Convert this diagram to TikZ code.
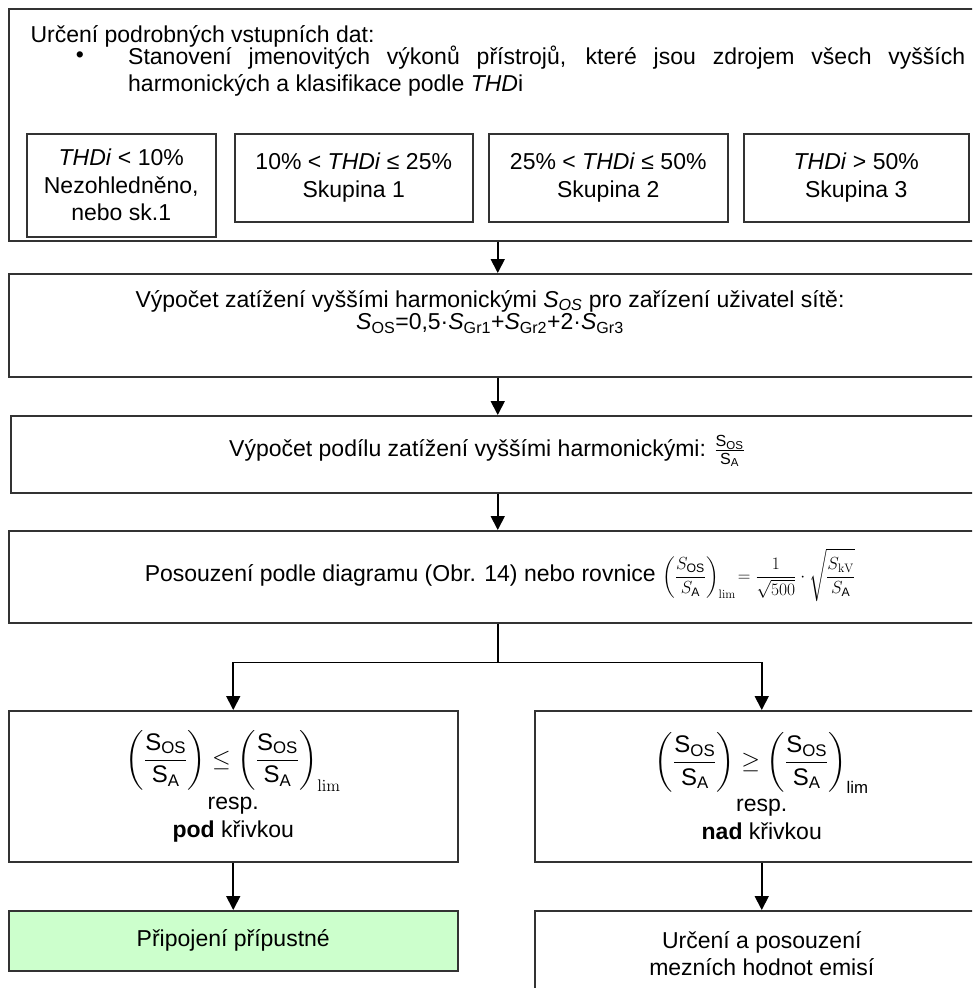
\RequirePackage{fix-cm}
\documentclass[tikz,border=0pt]{standalone}
\usepackage{amsmath}
\usepackage[no-math]{fontspec}
\setmainfont{Liberation Sans}
\usetikzlibrary{arrows.meta}
\definecolor{okgreen}{RGB}{204,255,204}
\newcommand{\Sos}{\text{S}_{\text{OS}}}
\newcommand{\Sa}{\text{S}_{\text{A}}}

\begin{document}
\begin{tikzpicture}[x=1pt,y=-1pt,
  every node/.style={font=\fontsize{23}{27.5}\selectfont},
  box/.style={draw=black!80,line width=1.5pt,inner sep=0pt,anchor=north west,align=center},
  arr/.style={-{Triangle[width=14pt,length=14pt]},line width=1.8pt}]
\useasboundingbox (0,0) rectangle (972,988);
\clip (0,0) rectangle (972,988);

% input data
\node[box,minimum width=978pt,minimum height=232pt] (input) at (8,8) {};
\node[anchor=base west] (inputtitle) at (27,42) {Určení podrobných vstupních dat:};
\node[anchor=base] (bullet) at (80,62) {•};
\node[anchor=north west,text width=837pt,align=justify,inner sep=0pt,font=\fontsize{23}{26.5}\selectfont] (inputtext) at (128,46)
  {Stanovení jmenovitých výkonů přístrojů, které jsou zdrojem všech vyšších\linebreak harmonických a klasifikace podle \textit{THD}i};
\node[box,minimum width=189pt,minimum height=103pt] (grp0) at (26,133) {\textit{THDi} < 10\%\\Nezohledněno,\\nebo sk.1};
\node[box,minimum width=238pt,minimum height=88pt] (grp1) at (234,133) {10\% < \textit{THDi} ≤ 25\%\\Skupina 1};
\node[box,minimum width=239pt,minimum height=88pt] (grp2) at (488,133) {25\% < \textit{THDi} ≤ 50\%\\Skupina 2};
\node[box,minimum width=225pt,minimum height=88pt] (grp3) at (743,133) {\textit{THDi} > 50\%\\Skupina 3};

% harmonic load
\node[box,minimum width=978pt,minimum height=103pt] (sos) at (8,273) {};
\node[align=center] (sostext) at (490,312) {Výpočet zatížení vyššími harmonickými \textit{S\textsubscript{OS}} pro zařízení uživatel sítě:\\[-5pt]
  \textit{S}\textsubscript{OS}=0,5·\textit{S}\textsubscript{Gr1}+\textit{S}\textsubscript{Gr2}+2·\textit{S}\textsubscript{Gr3}};

% ratio
\node[box,minimum width=976pt,minimum height=77pt] (ratio) at (10,415) {};
\node (ratiotext) at (487,451) {Výpočet podílu zatížení vyššími harmonickými: $\frac{\Sos}{\Sa}$};

% assessment
\node[box,minimum width=978pt,minimum height=92pt] (assess) at (8,530) {};
\node (assesstext) at (500,575) {Posouzení podle diagramu (Obr. 14) nebo rovnice
  {\fontsize{17.5}{20}\selectfont$\displaystyle\left(\frac{S_{\text{OS}}}{S_{\text{A}}}\right)_{\mathrm{lim}}\!=\frac{1}{\sqrt{500}}\cdot\sqrt{\frac{S_{\mathrm{kV}}}{S_{\text{A}}}}$}};

% below / above the curve
\node[box,minimum width=449pt,minimum height=151pt] (below) at (8,710)
  {{\fontsize{24}{28}\selectfont$\displaystyle\left(\frac{\Sos}{\Sa}\right)\leq\left(\frac{\Sos}{\Sa}\right)_{\mathrm{lim}}$}\\[5pt]resp.\\\textbf{pod} křivkou};
\node[box,minimum width=454pt,minimum height=151pt] (above) at (534,710)
  {{\fontsize{24}{28}\selectfont$\displaystyle\left(\frac{\Sos}{\Sa}\right)\geq\left(\frac{\Sos}{\Sa}\right)_{\text{lim}}$}\\[5pt]resp.\\\textbf{nad} křivkou};
\node[box,fill=okgreen,minimum width=449pt,minimum height=60pt] (ok) at (8,910) {Připojení přípustné};
\node[box,minimum width=454pt,minimum height=86pt] (limits) at (534,910) {Určení a posouzení\\mezních hodnot emisí};

% arrows
\draw[arr] (input.south) -- (input.south |- sos.north);
\draw[arr] (sos.south) -- (sos.south |- ratio.north);
\draw[arr] (ratio.south -| sos.south) -- (sos.south |- assess.north);
\draw[line width=1.8pt] (assess.south) -- ++(0,39) coordinate (split);
\draw[arr] (split) -| (below.north);
\draw[arr] (split) -| (above.north);
\draw[arr] (below) -- (ok);
\draw[arr] (above) -- (limits);
\end{tikzpicture}
\end{document}
